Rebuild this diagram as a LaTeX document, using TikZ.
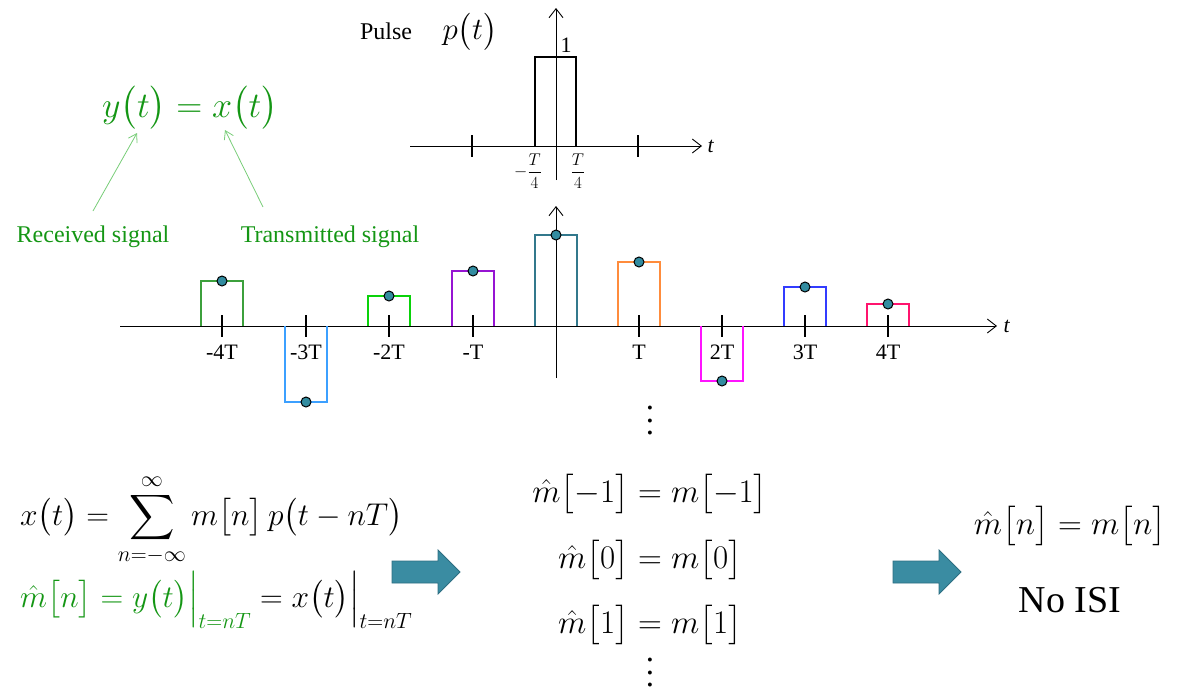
\RequirePackage{fix-cm}
\documentclass[tikz,border=0pt]{standalone}
\usepackage{amsmath}
\usepackage{fontspec}
\setmainfont{Liberation Serif}
\DeclareFontShape{OMX}{cmex}{m}{n}{<->cmex10}{}
\usetikzlibrary{arrows.meta}
\definecolor{eqgreen}{RGB}{20,150,20}
\definecolor{lightgr}{RGB}{120,205,120}
\definecolor{pA}{RGB}{60,160,60}
\definecolor{pB}{RGB}{60,160,255}
\definecolor{pC}{RGB}{10,210,10}
\definecolor{pD}{RGB}{150,20,210}
\definecolor{pE}{RGB}{50,120,140}
\definecolor{pF}{RGB}{255,140,60}
\definecolor{pG}{RGB}{255,20,255}
\definecolor{pH}{RGB}{50,60,255}
\definecolor{pI}{RGB}{255,20,110}
\definecolor{dotfill}{RGB}{50,140,160}
\definecolor{arrfill}{RGB}{58,140,162}
\definecolor{arrdraw}{RGB}{45,110,130}
\tikzset{
  axis/.style={line width=0.9pt,-{Straight Barb[length=9pt,width=14pt]}},
  tick/.style={line width=2pt},
  pulse/.style={line width=2.2pt},
  sample/.style={circle,draw=black,line width=1pt,fill=dotfill,inner sep=0pt,minimum size=10pt},
  ticklab/.style={font=\fontsize{22}{24}\selectfont,inner sep=0pt},
  eq/.style={font=\fontsize{33}{38}\selectfont,inner sep=0pt},
  eqs/.style={font=\fontsize{31.5}{37}\selectfont,inner sep=0pt},
  fatarrow/.style={fill=arrfill,draw=arrdraw,line width=0.8pt},
  note/.style={text=eqgreen,font=\fontsize{24}{26}\selectfont,inner sep=0pt},
  pointer/.style={draw=lightgr,line width=0.8pt,-{Straight Barb[length=8pt,width=10pt]}}
}
\newcommand\drawfatarrow[1]{%
  \path[fatarrow] (#1) ++(-34,-11) -- ++(46,0) -- ++(0,-11) -- ++(22,22) -- ++(-22,22) -- ++(0,-11) -- ++(-46,0) -- cycle;}
\newcommand\mydots{\vbox{\baselineskip=12.5pt\lineskiplimit=0pt\hbox{.}\hbox{.}\hbox{.}}}
\begin{document}
\begin{tikzpicture}[x=1pt,y=-1pt]
\useasboundingbox (0,0) rectangle (1177,696);
% ---------- pulse p(t) ----------
\coordinate (pxl) at (410,146);
\coordinate (pxr) at (702,146);
\coordinate (pyb) at (556,180);
\coordinate (pyt) at (556,8);
\draw[axis] (pxl) -- (pxr);
\draw[axis] (pyb) -- (pyt);
\node[font=\itshape\fontsize{22}{24}\selectfont,anchor=west] (pt) at (704,146) {t};
\draw[tick] (472,135) -- (472,157);
\draw[tick] (638,135) -- (638,157);
\draw[line width=2.2pt] (535,146) -- (535,57) -- (576,57) -- (576,146);
\node[font=\fontsize{22}{24}\selectfont,inner sep=0pt] (one) at (566,45) {1};
\node[inner sep=0pt,font=\fontsize{17}{20}\selectfont] (mT4) at (528,171) {$\displaystyle-\frac{T}{4}$};
\node[inner sep=0pt,font=\fontsize{17}{20}\selectfont] (T4) at (578,171) {$\displaystyle\frac{T}{4}$};
\node[font=\fontsize{24}{26}\selectfont,inner sep=0pt] (pulse) at (386,31) {Pulse};
\node[font=\fontsize{31}{36}\selectfont,inner sep=0pt] (pfun) at (470,32) {$p\bigl(t\bigr)$};
% ---------- y(t)=x(t) ----------
\node[eq,text=eqgreen,font=\fontsize{36}{40}\selectfont] (yx) at (190,108) {$y\bigl(t\bigr)=x\bigl(t\bigr)$};
\node[note] (recv) at (93,237) {Received signal};
\node[note] (trans) at (330,237) {Transmitted signal};
\coordinate (ya) at (137,133);
\coordinate (xa) at (225,130);
\coordinate (r0) at (93,211);
\coordinate (t0) at (263,207);
\draw[pointer] (r0) -- (ya);
\draw[pointer] (t0) -- (xa);
% ---------- pulse train ----------
\coordinate (axl) at (120,326);
\coordinate (axr) at (997,326);
\coordinate (ayb) at (556,378);
\coordinate (ayt) at (556,206);
\draw[axis] (axl) -- (axr);
\draw[axis] (ayb) -- (ayt);
\node[font=\itshape\fontsize{22}{24}\selectfont,anchor=west] (t2) at (1000,326) {t};
\foreach \c/\h/\col in {222/281/pA,306/402/pB,389/296/pC,473/271/pD,556/235/pE,639/262/pF,722/381/pG,805/287/pH,888/304/pI}{
  \draw[pulse,draw=\col] (\c-21,326) -- (\c-21,\h) -- (\c+21,\h) -- (\c+21,326);
}
\foreach \c in {222,306,389,473,639,722,805,888}{
  \draw[tick] (\c,315) -- (\c,337);
}
\foreach \c/\h [count=\i] in {222/281,306/402,389/296,473/271,556/235,639/262,722/381,805/287,888/304}{
  \node[sample] (s\i) at (\c,\h) {};
}
\node[ticklab] (l1) at (222,352) {-4T};
\node[ticklab] (l2) at (306,352) {-3T};
\node[ticklab] (l3) at (389,352) {-2T};
\node[ticklab] (l4) at (473,352) {-T};
\node[ticklab] (l6) at (639,352) {T};
\node[ticklab] (l7) at (722,352) {2T};
\node[ticklab] (l8) at (805,352) {3T};
\node[ticklab] (l9) at (888,352) {4T};
% ---------- equations ----------
\node[eqs,anchor=west] (xsum) at (20,520) {$\displaystyle x\bigl(t\bigr)=\sum_{n=-\infty}^{\infty} m\bigl[n\bigr]\,p\bigl(t-nT\bigr)$};
\node[eqs,anchor=west] (mhat) at (20,600) {$\color{eqgreen}\hat m\bigl[n\bigr]=y\bigl(t\bigr)\Big|_{t=nT}\color{black}=x\bigl(t\bigr)\Big|_{t=nT}$};
\coordinate (a1) at (426,572);
\coordinate (a2) at (927,572);
\drawfatarrow{a1}
\drawfatarrow{a2}
\node[eq] (vd1) at (650,421) {\mydots};
\node[eq] (e1) at (650,494) {$\hat m\bigl[-1\bigr]=m\bigl[-1\bigr]$};
\node[eq] (e2) at (650,560) {$\hat m\bigl[0\bigr]=m\bigl[0\bigr]$};
\node[eq] (e3) at (650,625) {$\hat m\bigl[1\bigr]=m\bigl[1\bigr]$};
\node[eq] (vd2) at (650,673) {\mydots};
\node[eq] (rn) at (1070,526) {$\hat m\bigl[n\bigr]=m\bigl[n\bigr]$};
\node[font=\fontsize{38}{40}\selectfont,inner sep=0pt] (noisi) at (1070,600) {No ISI};
\end{tikzpicture}
\end{document}
